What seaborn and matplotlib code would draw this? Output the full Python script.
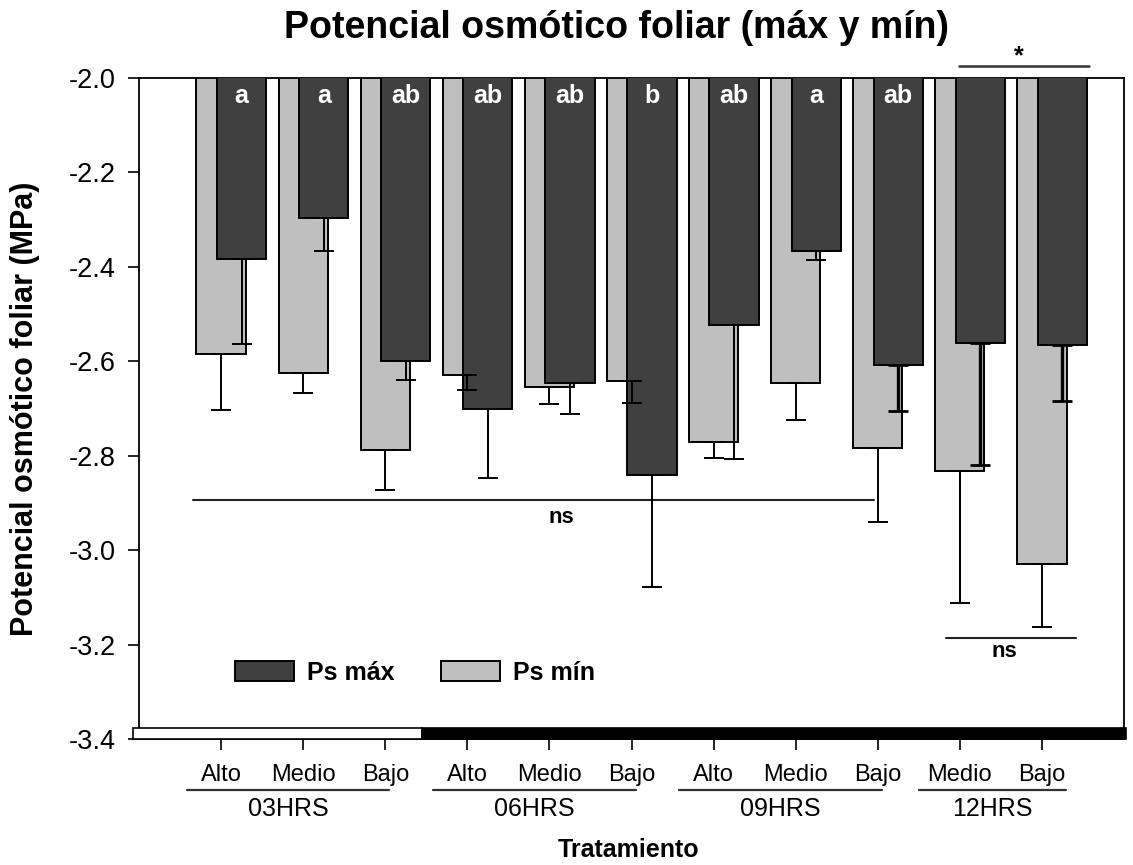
import numpy as np
import pandas as pd
import matplotlib
matplotlib.use("Agg")
import matplotlib.pyplot as plt
import seaborn as sns
from matplotlib.transforms import ScaledTranslation, blended_transform_factory
from matplotlib.patches import Patch

# ---------------- data ----------------
tratamientos = ["Alto", "Medio", "Bajo", "Alto", "Medio", "Bajo",
                "Alto", "Medio", "Bajo", "Medio", "Bajo"]
grupos = ["03HRS", "06HRS", "09HRS", "12HRS"]
grupo_n = [3, 3, 3, 2]
ps_max = [-2.383, -2.296, -2.600, -2.700, -2.646, -2.841,
          -2.523, -2.367, -2.608, -2.561, -2.566]
ps_max_err = [0.181, 0.070, 0.040, 0.148, 0.066, 0.238,
              0.285, 0.019, 0.097, 0.259, 0.118]
ps_min = [-2.585, -2.625, -2.787, -2.630, -2.654, -2.642,
          -2.770, -2.647, -2.783, -2.832, -3.030]
ps_min_err = [0.119, 0.042, 0.086, 0.030, 0.037, 0.046,
              0.034, 0.078, 0.157, 0.281, 0.132]
letras = ["a", "a", "ab", "ab", "ab", "b", "ab", "a", "ab", "", ""]
y_ticks = [-2.0, -2.2, -2.4, -2.6, -2.8, -3.0, -3.2, -3.4]
y_ticklabels = ["-2.0", "-2.2", "-2.4", "-2.6", "-2.8", "-3.0", "-3.2", "-3.4"]

# ---------------- style ----------------
sns.set_style("ticks")
plt.rcParams["font.family"] = ["Liberation Sans", "DejaVu Sans"]
plt.rcParams["axes.unicode_minus"] = False
for k in ["text.color", "axes.labelcolor", "xtick.color", "ytick.color"]:
    plt.rcParams[k] = "black"

DARK = "#404040"
LIGHT = "#bfbfbf"

fig = plt.figure(figsize=(11.33, 8.65), dpi=100)
ax = fig.add_axes([139 / 1133, 1 - 739 / 865, 985 / 1133, 661 / 865])

pos = np.arange(len(tratamientos), dtype=float)
df = pd.DataFrame({"pos": pos, "pos_max": pos + 0.25,
                   "ps_min": ps_min, "ps_max": ps_max,
                   "err_min": ps_min_err, "err_max": ps_max_err})

sns.barplot(data=df, x="pos", y="ps_min", native_scale=True, width=0.6,
            color=LIGHT, saturation=1, edgecolor="black", linewidth=1.4,
            errorbar=None, orient="x", label="Ps mín", ax=ax, zorder=2)
sns.barplot(data=df, x="pos_max", y="ps_max", native_scale=True, width=0.6,
            color=DARK, saturation=1, edgecolor="black", linewidth=1.4,
            errorbar=None, orient="x", label="Ps máx", ax=ax, zorder=3)

# one-sided (downward) error bars
ax.errorbar(df["pos"], df["ps_min"], yerr=[df["err_min"], np.zeros(len(pos))],
            fmt="none", ecolor="black", elinewidth=1.4, capsize=7,
            capthick=1.4, zorder=4)
thin = df.index < 8
thick = ~thin
ax.errorbar(df["pos_max"][thin], df["ps_max"][thin],
            yerr=[df["err_max"][thin], np.zeros(thin.sum())],
            fmt="none", ecolor="black", elinewidth=1.4, capsize=7,
            capthick=1.4, zorder=5)
ax.errorbar(df["pos_max"][thick], df["ps_max"][thick],
            yerr=[df["err_max"][thick], np.zeros(thick.sum())],
            fmt="none", ecolor="black", elinewidth=2.4, capsize=7,
            capthick=2.0, zorder=5)

# letters on dark bars
for xp, l in zip(df["pos_max"], letras):
    if l:
        ax.text(xp, -2.038, l, color="white", fontsize=18, fontweight="bold",
                ha="center", va="center", zorder=6)

ax.set_xlim(-1, 11)
ax.set_ylim(-3.4, -2.0)
ax.set_yticks(y_ticks)
ax.set_yticklabels(y_ticklabels, fontsize=19.5)
ax.set_xticks(pos)
ax.set_xticklabels(tratamientos, fontsize=17)
for lab in ax.get_xticklabels():
    lab.set_transform(lab.get_transform() + ScaledTranslation(-8 / 100, 0, fig.dpi_scale_trans))
ax.tick_params(axis="both", direction="out", length=8, width=1.2, color="black")
ax.tick_params(axis="x", pad=10)
ax.tick_params(axis="y", pad=9)
for sp in ax.spines.values():
    sp.set_visible(True)
    sp.set_linewidth(1.3)
    sp.set_color("black")
ax.set_xlabel("")
ax.set_ylabel("Potencial osmótico foliar (MPa)", fontsize=22, fontweight="bold")
ax.yaxis.set_label_coords(-0.1, 0.5)

# light/dark band at the bottom
ax.barh(y=-3.388, width=[2.45 + 1.07, 11.02 - 2.45], left=[-1.07, 2.45], height=0.024,
        color=["white", "black"], edgecolor="black", linewidth=1.2,
        clip_on=False, zorder=7)

# group lines and labels
tr = blended_transform_factory(ax.transData, ax.transAxes)
start = 0
for g, n in zip(grupos, grupo_n):
    x0 = start - 0.42
    x1 = start + n - 1 + 0.05
    if g == "12HRS":
        x0, x1 = start - 0.5, start + n - 1 + 0.29
    ax.plot([x0, x1], [-0.077, -0.077], color="#333333", lw=1.6,
            transform=tr, clip_on=False)
    ax.text((x0 + x1) / 2, -0.106, g, fontsize=18, ha="center", va="center",
            transform=tr)
    start += n
ax.text(0.497, -0.168, "Tratamiento", fontsize=18, fontweight="bold",
        ha="center", va="center", transform=ax.transAxes)

# significance annotations
ax.plot([-0.345, 7.96], [-2.894, -2.894], color="#222222", lw=1.5, zorder=1)
ax.text(4.14, -2.93, "ns", fontsize=16, fontweight="bold", ha="center", va="center")
ax.plot([8.83, 10.41], [-3.187, -3.187], color="#222222", lw=1.5)
ax.text(9.54, -3.215, "ns", fontsize=16, fontweight="bold", ha="center", va="center")
ax.plot([8.99, 10.57], [-1.974, -1.974], color="#333333", lw=1.8, clip_on=False)
ax.text(9.72, -1.955, "*", fontsize=18, fontweight="bold", ha="center", va="center",
        clip_on=False)

# legend
handles = [Patch(facecolor=DARK, edgecolor="black", linewidth=1.4),
           Patch(facecolor=LIGHT, edgecolor="black", linewidth=1.4)]
ax.legend(handles, ["Ps máx", "Ps mín"], ncol=2, frameon=False,
          loc="center left", bbox_to_anchor=(0.0975, 0.1), borderaxespad=0,
          borderpad=0, handlelength=2.36, handleheight=0.84, handletextpad=0.52,
          columnspacing=1.84, prop={"size": 18, "weight": "bold"})

fig.text(617 / 1133, 1 - 28 / 865, "Potencial osmótico foliar (máx y mín)",
         fontsize=27, fontweight="bold", ha="center", va="center")

fig.savefig("out.png", dpi=100)
